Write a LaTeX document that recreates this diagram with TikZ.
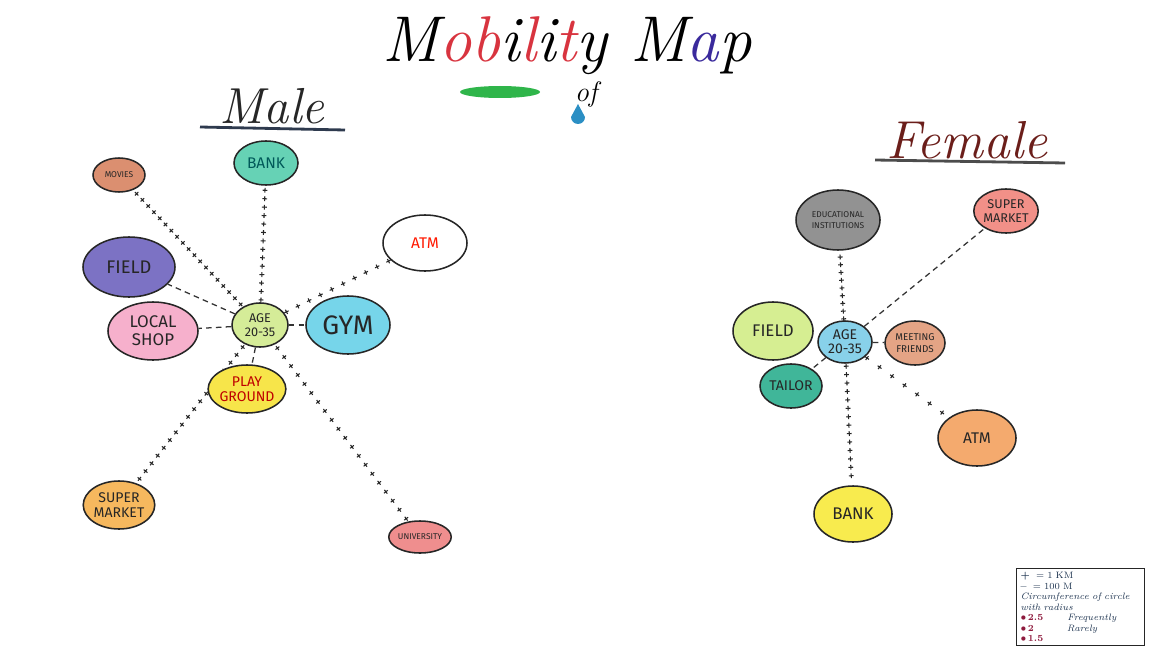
\documentclass[tikz,border=0pt]{standalone}
\usepackage{fontspec}
\usepackage{tikz}
\usetikzlibrary{shapes.geometric,decorations.markings,backgrounds}
\newfontfamily\labelfont{Fira Sans}
\usepackage{xcolor}
\definecolor{inkred}{HTML}{D8343F}
\definecolor{inkblue}{HTML}{3A2A9C}
\definecolor{inkgreen}{HTML}{2FB54A}
\definecolor{inkdrop}{HTML}{2B8FC4}
\definecolor{inknavy}{HTML}{2E3A4E}
\definecolor{inkbrown}{HTML}{6B1E1A}
\definecolor{legred}{HTML}{8E1B3E}
\definecolor{legink}{HTML}{1E3450}
% male spots
\definecolor{cAgeM}{HTML}{D5EC98}
\definecolor{cBankM}{HTML}{66D2B5}
\definecolor{cMovies}{HTML}{DB8F70}
\definecolor{cFieldM}{HTML}{7C72C4}
\definecolor{cShop}{HTML}{F6B0CC}
\definecolor{cGym}{HTML}{76D5EA}
\definecolor{cPlay}{HTML}{F7E54A}
\definecolor{cSuperM}{HTML}{F6B85E}
\definecolor{cUniv}{HTML}{EF8E8E}
% female spots
\definecolor{cAgeF}{HTML}{88D1EA}
\definecolor{cEdu}{HTML}{929292}
\definecolor{cSuperF}{HTML}{F29088}
\definecolor{cFieldF}{HTML}{D6EE92}
\definecolor{cMeet}{HTML}{E4A485}
\definecolor{cTailor}{HTML}{40B699}
\definecolor{cAtmF}{HTML}{F4AA6E}
\definecolor{cBankF}{HTML}{F8EB4E}
\tikzset{
  spot/.style 2 args = {draw=black!85, line width=1.1pt, ellipse, inner sep=0pt,
                        minimum width=#1*0.025cm, minimum height=#2*0.025cm,
                        align=center, font=\labelfont\fontsize{11}{11}\selectfont,
                        text=black!85},
  kmlink/.style      = {decoration={markings,
                        mark=between positions 0.02 and 0.99 step #1 with
                        {\draw[line width=0.75pt,black!85] (-1.7pt,0) -- (1.7pt,0)
                                                           (0,-1.7pt) -- (0,1.7pt);}},
                        decorate},
  kmlink/.default    = 6pt,
  hmlink/.style      = {line width=0.9pt, black!80, dash pattern=on 4pt off 3pt},
}

\begin{document}
\begin{tikzpicture}[x=0.025cm, y=-0.025cm]
\useasboundingbox (0,0) rectangle (1174,663);
% ---- heading ----
\node (title) at (567,46) {\fontsize{46}{50}\selectfont\itshape
  M\textcolor{inkred}{ob}i\textcolor{inkred}{l}i\textcolor{inkred}{t}y
  M\textcolor{inkblue}{a}p};
\fill[inkgreen] (500,92) ellipse (40 and 6);
\node[font=\itshape\fontsize{20}{20}\selectfont] (of) at (586,94) {of};
\fill[inkdrop] (578,104) -- (571,117) arc (180:0:7) -- cycle;
\node[font=\itshape\fontsize{36}{36}\selectfont, text=black!85] (male) at (272,106) {Male};
\draw[line width=2pt, inknavy] (200,127) -- (345,130);
\node[font=\itshape\fontsize{38}{38}\selectfont, text=inkbrown] (female) at (967,140) {Female};
\draw[line width=2pt, black!70] (875,160) -- (1065,163);
% ---- male spots ----
\node[spot={56}{44}, fill=cAgeM, font=\labelfont\fontsize{9}{10}\selectfont] (ageM) at (260,325) {AGE\\20-35};
\node[spot={64}{44}, fill=cBankM, text=teal!70!black] (bankM) at (266,163) {BANK};
\node[spot={52}{34}, fill=cMovies, font=\labelfont\fontsize{6}{6}\selectfont] (movies) at (119,175) {MOVIES};
\node[spot={84}{56}, fill=white, text=red!80!orange] (atmM) at (425,243) {ATM};
\node[spot={92}{60}, fill=cFieldM, font=\labelfont\fontsize{13}{13}\selectfont] (fieldM) at (129,267) {FIELD};
\node[spot={90}{58}, fill=cShop, font=\labelfont\fontsize{12}{13}\selectfont] (shop) at (153,331) {LOCAL\\SHOP};
\node[spot={84}{58}, fill=cGym, font=\labelfont\fontsize{19}{19}\selectfont] (gym) at (348,325) {GYM};
\node[spot={66}{48}, fill=cPlay, text=red!75!black, font=\labelfont\fontsize{10}{11}\selectfont] (play) at (247,389) {PLAY\\GROUND};
\node[spot={70}{48}, fill=cSuperM, font=\labelfont\fontsize{10}{11}\selectfont] (superM) at (119,505) {SUPER\\MARKET};
\node[spot={48}{32}, fill=cUniv, font=\labelfont\fontsize{6}{6}\selectfont] (univ) at (420,537) {UNIVERSITY};
% ---- male links ----
\begin{pgfonlayer}{background}
\path[kmlink] (ageM) -- (movies);
\path[kmlink] (ageM) -- (bankM);
\path[kmlink=9pt] (ageM) -- (atmM);
\path[kmlink=7pt] (ageM) -- (superM);
\path[kmlink=8pt] (ageM) -- (univ);
\draw[hmlink] (ageM) -- (fieldM);
\draw[hmlink] (ageM) -- (shop);
\draw[hmlink] (ageM) -- (gym);
\draw[hmlink] (ageM) -- (play);
\end{pgfonlayer}
% ---- female spots ----
\node[spot={54}{42}, fill=cAgeF, font=\labelfont\fontsize{10}{10}\selectfont] (ageF) at (845,342) {AGE\\20-35};
\node[spot={84}{60}, fill=cEdu, font=\labelfont\fontsize{6}{8}\selectfont] (edu) at (838,220) {EDUCATIONAL\\INSTITUTIONS};
\node[spot={62}{44}, fill=cSuperF, font=\labelfont\fontsize{9}{10}\selectfont] (superF) at (1006,211) {SUPER\\MARKET};
\node[spot={80}{58}, fill=cFieldF, font=\labelfont\fontsize{12}{12}\selectfont] (fieldF) at (773,331) {FIELD};
\node[spot={60}{44}, fill=cMeet, font=\labelfont\fontsize{7}{8}\selectfont] (meet) at (915,343) {MEETING\\FRIENDS};
\node[spot={62}{44}, fill=cTailor, font=\labelfont\fontsize{10}{10}\selectfont] (tailor) at (791,386) {TAILOR};
\node[spot={78}{56}, fill=cAtmF] (atmF) at (977,438) {ATM};
\node[spot={78}{56}, fill=cBankF, font=\labelfont\fontsize{12}{12}\selectfont] (bankF) at (853,514) {BANK};
% ---- female links ----
\begin{pgfonlayer}{background}
\path[kmlink=5.5pt] (ageF) -- (edu);
\path[kmlink=6pt] (ageF) -- (bankF);
\path[kmlink=11pt] (ageF) -- (atmF);
\draw[hmlink] (ageF) -- (superF);
\draw[hmlink] (ageF) -- (meet);
\draw[hmlink] (ageF) -- (tailor);
\end{pgfonlayer}
% ---- key ----
\node[draw=black!85, line width=0.9pt, anchor=north west, inner sep=2pt,
      minimum width=128*0.025cm, minimum height=77*0.025cm, align=left,
      text width=120*0.025cm, font=\fontsize{6.6}{7.5}\selectfont, text=legink] (legend) at (1016,568)
  {\textbf{+}\ \ = 1 KM\\
   \textbf{--}\ \ = 100 M\\
   {\itshape Circumference of circle}\\
   {\itshape with radius}\\
   \textcolor{legred}{$\bullet$\,\textbf{2.5}}\hspace{2.6em}{\itshape Frequently}\\
   \textcolor{legred}{$\bullet$\,\textbf{2}}\hspace{3.55em}{\itshape Rarely}\\
   \textcolor{legred}{$\bullet$\,\textbf{1.5}}};
\end{tikzpicture}
\end{document}
